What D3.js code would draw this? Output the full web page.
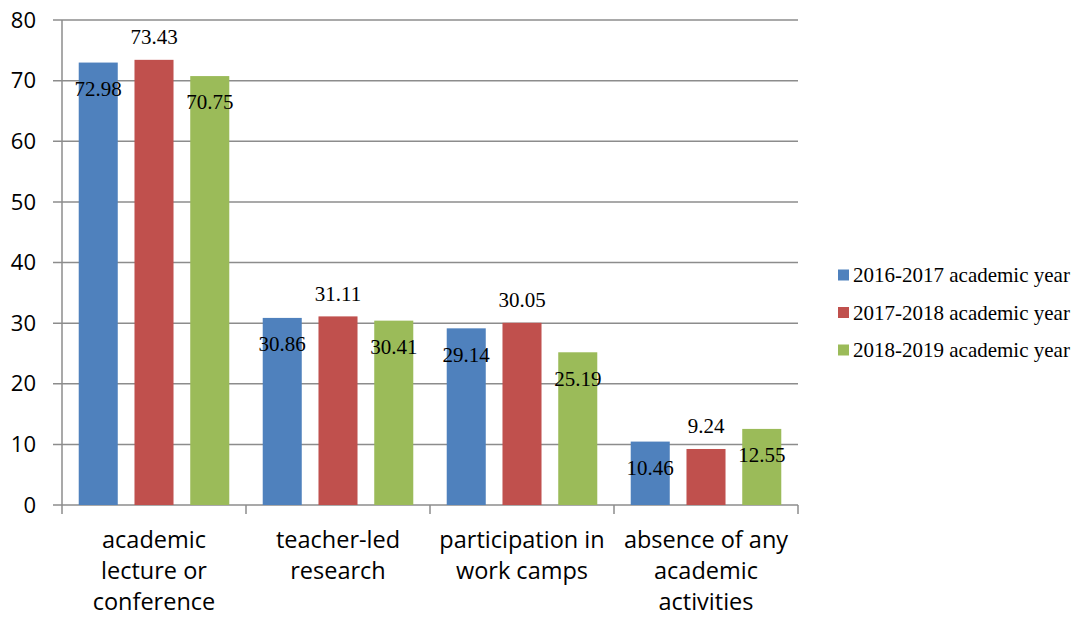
<!DOCTYPE html>
<html>
<head>
<meta charset="utf-8">
<script src="https://cdn.jsdelivr.net/npm/d3@7"></script>
<style>
  body { margin: 0; background: #fff; }
</style>
</head>
<body>
<script>
"use strict";

// chart data
const categories = [
  ["academic", "lecture or", "conference"],
  ["teacher-led", "research"],
  ["participation in", "work camps"],
  ["absence of any", "academic", "activities"]
];
const seriesNames = ["2016-2017 academic year", "2017-2018 academic year", "2018-2019 academic year"];
const values2016 = [72.98, 30.86, 29.14, 10.46];
const values2017 = [73.43, 31.11, 30.05, 9.24];
const values2018 = [70.75, 30.41, 25.19, 12.55];
const yTicks = [0, 10, 20, 30, 40, 50, 60, 70, 80];
// where each series puts its value label
const labelPlace = ["inside", "above", "inside"];

const allValues = [values2016, values2017, values2018];
const colors = ["#4f81bd", "#c0504d", "#9bbb59"];

const width = 1078, height = 617;
const plot = { left: 62, right: 798, top: 20, bottom: 505 };

let svg = d3.select("body").append("svg")
  .attr("width", width)
  .attr("height", height);

let x0 = d3.scaleBand()
  .domain(d3.range(categories.length))
  .range([plot.left, plot.right])
  .padding(0);

let x1 = d3.scaleBand()
  .domain(d3.range(seriesNames.length))
  .range([0, x0.bandwidth()])
  .paddingInner(0.3)
  .paddingOuter(0.3);

let y = d3.scaleLinear()
  .domain([0, 80])
  .range([plot.bottom, plot.top]);

const gridColor = "#8c8c8c";

//gridlines + y ticks
let grid = svg.append("g");
grid.selectAll("line")
  .data(yTicks)
  .join("line")
  .attr("x1", plot.left - 9)
  .attr("x2", plot.right)
  .attr("y1", d => y(d))
  .attr("y2", d => y(d))
  .attr("stroke", gridColor)
  .attr("stroke-width", 1.5);

svg.append("line")
  .attr("x1", plot.left).attr("x2", plot.left)
  .attr("y1", plot.top).attr("y2", plot.bottom)
  .attr("stroke", gridColor)
  .attr("stroke-width", 1.5);

svg.append("g")
  .selectAll("text")
  .data(yTicks)
  .join("text")
  .attr("x", 36)
  .attr("y", d => y(d))
  .attr("dy", "0.35em")
  .attr("text-anchor", "end")
  .attr("font-family", "'Open Sans', sans-serif")
  .attr("font-size", 22)
  .attr("fill", "#000")
  .text(d => d);

//x axis ticks at category edges
let edges = d3.range(categories.length + 1).map(i => i < categories.length ? x0(i) : plot.right);
svg.append("g")
  .selectAll("line")
  .data(edges)
  .join("line")
  .attr("x1", d => d).attr("x2", d => d)
  .attr("y1", plot.bottom).attr("y2", plot.bottom + 9)
  .attr("stroke", gridColor)
  .attr("stroke-width", 1.5);

//bars
let groups = svg.append("g")
  .selectAll("g")
  .data(categories)
  .join("g")
  .attr("transform", (d, i) => "translate(" + x0(i) + ",0)");

groups.each(function(cat, ci)
{
  let g = d3.select(this);
  allValues.forEach((vals, si) =>
  {
    g.append("rect")
      .attr("x", x1(si))
      .attr("y", y(vals[ci]))
      .attr("width", x1.bandwidth())
      .attr("height", y(0) - y(vals[ci]))
      .attr("fill", colors[si]);
  });
  allValues.forEach((vals, si) =>
  {
    let top = y(vals[ci]);
    let cy = labelPlace[si] == "above" ? top - 23 : top + 26;
    g.append("text")
      .attr("x", x1(si) + x1.bandwidth() / 2)
      .attr("y", cy)
      .attr("dy", "0.35em")
      .attr("text-anchor", "middle")
      .attr("font-family", "'Liberation Serif', 'Times New Roman', serif")
      .attr("font-size", 21)
      .attr("fill", "#000")
      .text(vals[ci].toFixed(2));
  });
});

//category labels
svg.append("g")
  .selectAll("text")
  .data(categories)
  .join("text")
  .attr("x", (d, i) => x0(i) + x0.bandwidth() / 2)
  .attr("y", 548)
  .attr("text-anchor", "middle")
  .attr("font-family", "'Open Sans', sans-serif")
  .attr("font-size", 23.5)
  .attr("fill", "#000")
  .each(function(lines)
  {
    let t = d3.select(this);
    lines.forEach((ln, k) =>
    {
      t.append("tspan")
        .attr("x", t.attr("x"))
        .attr("dy", k == 0 ? 0 : 31)
        .text(ln);
    });
  });

//legend
let legend = svg.append("g")
  .selectAll("g")
  .data(seriesNames)
  .join("g")
  .attr("transform", (d, i) => "translate(838," + (275 + i * 37.5) + ")");
legend.append("rect")
  .attr("x", 0).attr("y", -5.5)
  .attr("width", 11).attr("height", 11)
  .attr("fill", (d, i) => colors[i]);
legend.append("text")
  .attr("x", 15)
  .attr("y", 0)
  .attr("dy", "0.35em")
  .attr("font-family", "'Liberation Serif', 'Times New Roman', serif")
  .attr("font-size", 21)
  .attr("fill", "#000")
  .text(d => d);
</script>
</body>
</html>
